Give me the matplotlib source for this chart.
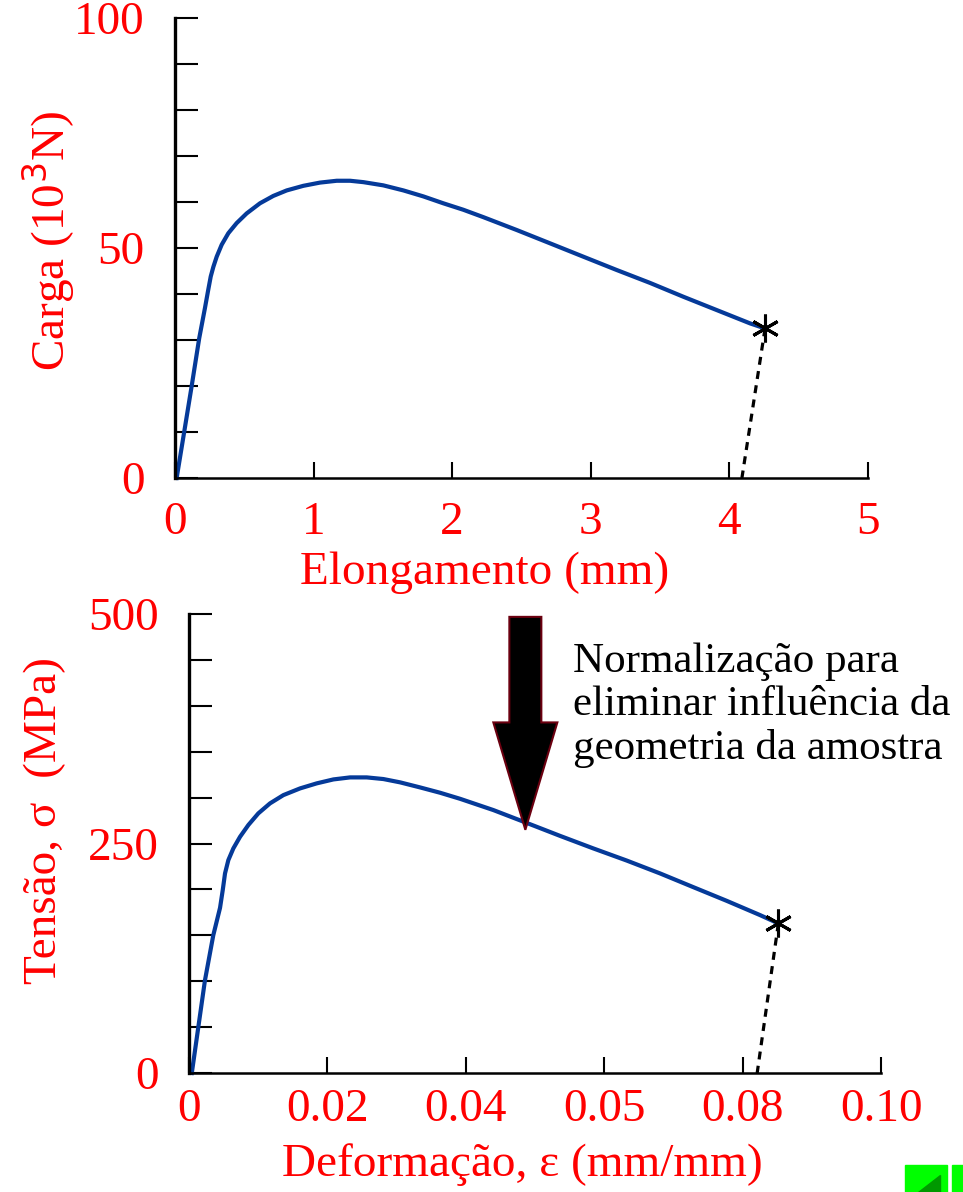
import numpy as np
import matplotlib
matplotlib.use('Agg')
import matplotlib.pyplot as plt
from matplotlib.patches import FancyArrow, Rectangle, Polygon

plt.rcParams['font.family'] = ['Liberation Serif', 'DejaVu Serif']

# Curva carga x elongamento
elong = [0.012, 0.067, 0.12, 0.175, 0.216, 0.240, 0.258, 0.277, 0.301, 0.337,
         0.385, 0.445, 0.517, 0.613, 0.709, 0.806, 0.926, 1.046, 1.167, 1.263,
         1.359, 1.503, 1.648, 1.792, 1.936, 2.08, 2.224, 2.465, 2.706, 2.946,
         3.187, 3.427, 3.667, 3.908, 4.149, 4.257]
carga = [0.0, 10.1, 19.9, 30.4, 36.9, 40.9, 43.8, 45.9, 48.1, 50.7,
         53.2, 55.4, 57.5, 59.7, 61.3, 62.5, 63.5, 64.2, 64.6, 64.6,
         64.3, 63.6, 62.5, 61.2, 59.7, 58.3, 56.7, 53.9, 51.0, 48.1,
         45.2, 42.4, 39.4, 36.5, 33.6, 32.5]
descarga_top_x = [4.257, 4.09]
descarga_top_y = [32.5, 0.0]

# Curva tensão x deformação
deform = [0.0004, 0.0023, 0.0035, 0.00448, 0.00487, 0.0052, 0.00568, 0.0064,
          0.00737, 0.00857, 0.01001, 0.0117, 0.01363, 0.01604, 0.01845, 0.02086,
          0.02327, 0.02568, 0.02809, 0.0305, 0.03338, 0.03627, 0.03916, 0.04398,
          0.0488, 0.05361, 0.05843, 0.06325, 0.06806, 0.07288, 0.0777, 0.08251,
          0.08516]
tensao = [0.0, 101, 150, 180, 199.3, 217.5, 232.0, 244.7,
          257.4, 270.2, 282.9, 293.8, 302.8, 310.1, 315.6, 319.9,
          322.1, 322.1, 320.3, 316.7, 311.2, 305.4, 298.8, 286.5,
          272.5, 258.4, 244.7, 231.5, 217.5, 202.5, 187.6, 172.1,
          163.0]
descarga_bot_x = [0.08516, 0.0821]
descarga_bot_y = [163.0, 0.0]

# Eixos
top_xticks = [0, 1, 2, 3, 4, 5]
top_xlabels = ['0', '1', '2', '3', '4', '5']
top_yticks = list(range(0, 101, 10))
top_ylabels = ['0', '', '', '', '', '50', '', '', '', '', '100']
bot_xticks = [0, 0.02, 0.04, 0.06, 0.08, 0.10]
bot_xlabels = ['0', '0.02', '0.04', '0.05', '0.08', '0.10']
bot_yticks = list(range(0, 501, 50))
bot_ylabels = ['0', '', '', '', '', '250', '', '', '', '', '500']

# Seta (dados do gráfico inferior)
seta_x = 0.0486
seta_topo = 497
seta_ponta = 265

azul = '#053a99'
vermelho = '#ff0000'
fs = 34

fig = plt.figure(figsize=(9.63, 11.92), dpi=100)
ax1 = fig.add_axes([0.1817, 0.599, 0.7197, 0.386])
ax2 = fig.add_axes([0.1963, 0.0998, 0.7186, 0.385])


def estilo(ax, xt, xl, yt, yl, xmax, ymax, xpad):
    ax.set_xlim(0, xmax)
    ax.set_ylim(0, ymax)
    ax.spines['top'].set_visible(False)
    ax.spines['right'].set_visible(False)
    ax.spines['left'].set_linewidth(2.4)
    ax.spines['bottom'].set_linewidth(1.8)
    ax.set_xticks(xt)
    ax.set_xticklabels(xl)
    ax.set_yticks(yt)
    ax.set_yticklabels(yl)
    ax.tick_params(axis='y', direction='in', length=16.5, width=1.5,
                   labelsize=fs, labelcolor=vermelho, pad=22)
    ax.tick_params(axis='x', direction='in', length=11.5, width=1.5,
                   labelsize=fs, labelcolor=vermelho, pad=xpad)


estilo(ax1, top_xticks, top_xlabels, top_yticks, top_ylabels, 5, 100, 17)
estilo(ax2, bot_xticks, bot_xlabels, bot_yticks, bot_ylabels, 0.10, 500, 11)

# Gráfico superior
ax1.plot(elong, carga, color=azul, lw=3, solid_joinstyle='round', clip_on=False)
ax1.plot(descarga_top_x, descarga_top_y, color='black', lw=2.3, ls=(0, (2.5, 2)))
ax1.plot(elong[-1], carga[-1], marker=(6, 2, 0), color='black', ms=20, mew=2.2)
ax1.set_xlabel('Elongamento (mm)', color=vermelho, fontsize=fs)
ax1.set_ylabel('Carga (10$^{3}$N)', color=vermelho, fontsize=fs)
ax1.xaxis.set_label_coords(0.447, -0.207)
ax1.yaxis.set_label_coords(-0.183, 0.515)
ax1.xaxis.label.set_va('center')
ax1.yaxis.label.set_va('center')

# Gráfico inferior
ax2.plot(deform, tensao, color=azul, lw=3, solid_joinstyle='round', clip_on=False)
ax2.plot(descarga_bot_x, descarga_bot_y, color='black', lw=2.3, ls=(0, (2.5, 2)))
ax2.plot(deform[-1], tensao[-1], marker=(6, 2, 0), color='black', ms=20, mew=2.2)
ax2.set_xlabel('Deformação, ε (mm/mm)', color=vermelho, fontsize=fs)
ax2.set_ylabel('Tensão, σ  (MPa)', color=vermelho, fontsize=fs)
ax2.xaxis.set_label_coords(0.481, -0.2)
ax2.yaxis.set_label_coords(-0.208, 0.551)
ax2.xaxis.label.set_va('center')
ax2.yaxis.label.set_va('center')

seta = FancyArrow(seta_x, seta_topo, 0, seta_ponta - seta_topo,
                  width=0.00462, head_width=0.00925, head_length=117,
                  length_includes_head=True, facecolor='black',
                  edgecolor='#6b0010', lw=1.5, clip_on=False, zorder=5)
ax2.add_patch(seta)

ax2.text(0.0555, 401, 'Normalização para\neliminar influência da\ngeometria da amostra',
         fontsize=31, color='black', ha='left', va='center', linespacing=1.16)

# Botões verdes no canto
fig.add_artist(Rectangle((905 / 963, 0), 42 / 963, 27 / 1192,
                         transform=fig.transFigure, color='#00ff00'))
fig.add_artist(Rectangle((952 / 963, 0), 11 / 963, 27 / 1192,
                         transform=fig.transFigure, color='#00ff00'))
fig.add_artist(Polygon([(918 / 963, 0), (940 / 963, 0), (940 / 963, 17 / 1192)],
                       transform=fig.transFigure, color='#009900'))

fig.savefig('out.png', dpi=100)
